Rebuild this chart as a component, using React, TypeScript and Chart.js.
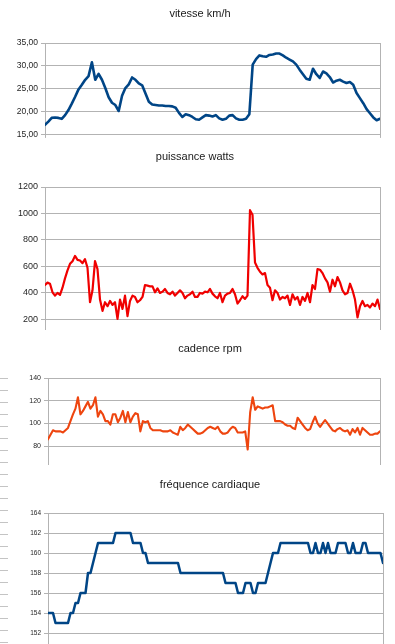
import React, { useEffect, useRef } from 'react';
import { Chart, registerables } from 'chart.js';

Chart.register(...registerables);

// ---------- data ----------
const speedKmh = [17.2, 17.9, 18.7, 18.8, 18.7, 18.5, 19.3, 20.4, 21.8, 23.3,
  24.9, 25.9, 27.0, 27.8, 30.8, 27.0, 28.3, 27.0, 25.2, 23.2,
  22.0, 21.5, 20.2, 23.5, 25.2, 26.0, 27.5, 27.0, 26.2, 25.8,
  24.0, 22.2, 21.6, 21.5, 21.4, 21.4, 21.3, 21.3, 21.2, 20.9,
  19.8, 18.9, 19.5, 19.3, 18.9, 18.4, 18.3, 18.8, 19.3, 19.2,
  19.0, 19.3, 18.6, 18.3, 18.5, 19.2, 19.3, 18.6, 18.3, 18.3,
  18.5, 19.5, 30.3, 31.5, 32.3, 32.1, 32.0, 32.4, 32.5, 32.7,
  32.7, 32.3, 31.8, 31.4, 31.0, 30.3, 29.2, 28.2, 27.2, 27.0,
  29.4, 28.2, 27.4, 28.8, 28.4, 27.6, 26.4, 26.8, 27.0, 26.6,
  26.3, 26.5, 25.9, 24.1, 23.0, 21.9, 20.6, 19.7, 18.8, 18.2, 18.5];
const speedTicks = [15, 20, 25, 30, 35];

const powerWatts = [460, 478, 470, 405, 380, 400, 385, 440, 510, 570,
  620, 640, 680, 650, 645, 625, 655, 590, 330, 420,
  640, 580, 350, 265, 330, 300, 340, 310, 330, 205,
  350, 280, 380, 225, 340, 380, 370, 330, 345, 370,
  460, 455, 450, 450, 405, 435, 400, 410, 430, 400,
  390, 410, 380, 400, 420, 400, 360, 380, 390, 410,
  370, 370, 400, 395, 410, 405, 430, 395, 375, 360,
  400, 330, 380, 395, 400, 430, 390, 320, 345, 375,
  355, 380, 1025, 990, 630, 590, 560, 540, 550, 460,
  440, 345, 420, 400, 350, 370, 360, 380, 310, 390,
  350, 370, 310, 370, 340, 400, 330, 460, 430, 580,
  575, 550, 510, 480, 410, 500, 450, 520, 480, 420,
  390, 400, 470, 420, 350, 215, 300, 340, 300, 310,
  290, 320, 300, 350, 280];
const powerTicks = [200, 400, 600, 800, 1000, 1200];

const cadenceRpm = [86, 90, 94, 93, 93, 93, 92, 94, 96, 102,
  108, 113, 123, 108, 111, 115, 119, 113, 116, 123,
  106, 111, 108, 102, 102, 99, 108, 108, 101, 105,
  111, 101, 110, 101, 106, 109, 108, 93, 102, 101,
  102, 96, 94, 94, 94, 94, 93, 93, 93, 94,
  92, 91, 90, 97, 94, 96, 99, 97, 95, 93,
  91, 91, 92, 94, 96, 97, 96, 95, 97, 93,
  91, 91, 92, 95, 97, 96, 92, 92, 92, 93,
  77, 110, 123, 112, 115, 114, 113, 114, 114, 115,
  116, 102, 102, 102, 101, 99, 98, 98, 96, 95,
  105, 102, 99, 96, 94, 95, 101, 106, 100, 97,
  100, 103, 100, 97, 94, 93, 95, 96, 94, 93,
  94, 90, 95, 92, 96, 90, 96, 94, 92, 90,
  90, 91, 91, 93];
const cadenceTicks = [80, 100, 120, 140];

const heartRate = [154, 154, 154, 153, 153, 153, 153, 153, 153, 154,
  154, 155, 155, 156, 156, 156, 158, 158, 159, 160,
  161, 161, 161, 161, 161, 161, 161, 162, 162, 162,
  162, 162, 162, 162, 161, 161, 161, 161, 160, 160,
  159, 159, 159, 159, 159, 159, 159, 159, 159, 159,
  159, 159, 159, 158, 158, 158, 158, 158, 158, 158,
  158, 158, 158, 158, 158, 158, 158, 158, 158, 158,
  158, 157, 157, 157, 157, 157, 156, 156, 156, 157,
  157, 157, 156, 156, 157, 157, 157, 157, 158, 159,
  160, 160, 160, 161, 161, 161, 161, 161, 161, 161,
  161, 161, 161, 161, 161, 160, 160, 161, 160, 160,
  161, 160, 161, 160, 160, 160, 161, 161, 161, 161,
  160, 160, 161, 160, 160, 160, 161, 161, 160, 160,
  160, 160, 160, 160, 159];
const heartTicks = [152, 154, 156, 158, 160, 162, 164];

// ---------- styling ----------
const FONT = "'Liberation Sans', Arial, sans-serif";
const GRID = '#b3b3b3';

type Spec = {
  title: string;
  titleX: number;
  titleY: number;
  data: number[];
  color: string;
  lineWidth: number;
  ticks: number[];
  format: (v: number) => string;
  yMin: number;
  yMax: number;
  top: number;
  height: number;
  pad: { left: number; right: number; top: number; bottom: number };
  yWidth: number;
  tickSize: number;
};

const specs: Spec[] = [
  {
    title: 'vitesse km/h', titleX: 200, titleY: 13,
    data: speedKmh, color: '#004586', lineWidth: 2.6,
    ticks: speedTicks, format: (v) => v.toFixed(2).replace('.', ','),
    yMin: 15, yMax: 35, top: 0, height: 143,
    pad: { left: 0, right: 15, top: 43, bottom: 5 }, yWidth: 45, tickSize: 8.5,
  },
  {
    title: 'puissance watts', titleX: 195, titleY: 156,
    data: powerWatts, color: '#f00000', lineWidth: 2.2,
    ticks: powerTicks, format: (v) => String(v),
    yMin: 143, yMax: 1200, top: 143, height: 194,
    pad: { left: 0, right: 15, top: 44, bottom: 7 }, yWidth: 45, tickSize: 9,
  },
  {
    title: 'cadence rpm', titleX: 210, titleY: 348,
    data: cadenceRpm, color: '#ee450f', lineWidth: 2.1,
    ticks: cadenceTicks, format: (v) => String(v),
    yMin: 66, yMax: 140, top: 337, height: 133,
    pad: { left: 0, right: 15, top: 41, bottom: 5 }, yWidth: 48, tickSize: 7,
  },
  {
    title: 'fréquence cardiaque', titleX: 210, titleY: 484,
    data: heartRate, color: '#004586', lineWidth: 2.5,
    ticks: heartTicks, format: (v) => String(v),
    yMin: 150, yMax: 164, top: 470, height: 191,
    pad: { left: 0, right: 12, top: 43, bottom: 5 }, yWidth: 48, tickSize: 6.5,
  },
];

function LineChart({ spec }: { spec: Spec }) {
  const ref = useRef<HTMLCanvasElement | null>(null);
  useEffect(() => {
    const n = spec.data.length;
    const chart = new Chart(ref.current as HTMLCanvasElement, {
      type: 'line',
      data: {
        labels: spec.data.map((_, i) => i),
        datasets: [{
          data: spec.data,
          borderColor: spec.color,
          borderWidth: spec.lineWidth,
          pointRadius: 0,
          fill: false,
          tension: 0,
          borderJoinStyle: 'round',
          borderCapStyle: 'round',
        }],
      },
      options: {
        responsive: false,
        animation: false,
        devicePixelRatio: 1,
        layout: { padding: spec.pad },
        plugins: {
          legend: { display: false },
          tooltip: { enabled: false },
          title: { display: false },
        },
        scales: {
          x: {
            type: 'linear',
            min: 0,
            max: n - 1,
            afterBuildTicks: (s: any) => { s.ticks = [{ value: 0 }, { value: n - 1 }]; },
            afterFit: (s: any) => { s.height = 3; },
            ticks: { display: false },
            grid: { color: GRID, lineWidth: 1, drawTicks: true, tickLength: 3 },
            border: { display: false },
          },
          y: {
            type: 'linear',
            min: spec.yMin,
            max: spec.yMax,
            afterBuildTicks: (s: any) => { s.ticks = spec.ticks.map((v) => ({ value: v })); },
            afterFit: (s: any) => { s.width = spec.yWidth; },
            ticks: {
              font: { family: FONT, size: spec.tickSize },
              color: '#262626',
              padding: 3,
              callback: (v: any) => spec.format(Number(v)),
            },
            grid: { color: GRID, lineWidth: 1, drawTicks: true, tickLength: 4 },
            border: { display: true, color: GRID, width: 1 },
          },
        },
      } as any,
    });
    return () => chart.destroy();
  }, [spec]);
  return (
    <>
      <canvas
        ref={ref}
        width={395}
        height={spec.height}
        style={{ position: 'absolute', left: 0, top: spec.top, width: 395, height: spec.height }}
      />
      <div
        style={{
          position: 'absolute', left: spec.titleX - 120, top: spec.titleY - 7, width: 240,
          textAlign: 'center', font: `11px ${FONT}`, lineHeight: '14px', color: '#1a1a1a',
          whiteSpace: 'nowrap',
        }}
      >
        {spec.title}
      </div>
    </>
  );
}

export default function App() {
  return (
    <div style={{ position: 'absolute', left: 0, top: 0, width: 395, height: 644, overflow: 'hidden', background: '#fff' }}>
      <div
        style={{
          position: 'absolute', left: 0, top: 378, width: 8, height: 266,
          backgroundImage: 'repeating-linear-gradient(to bottom, #c4c4c4 0px, #c4c4c4 1px, transparent 1px, transparent 12px)',
        }}
      />
      {specs.map((s) => <LineChart key={s.title} spec={s} />)}
    </div>
  );
}
